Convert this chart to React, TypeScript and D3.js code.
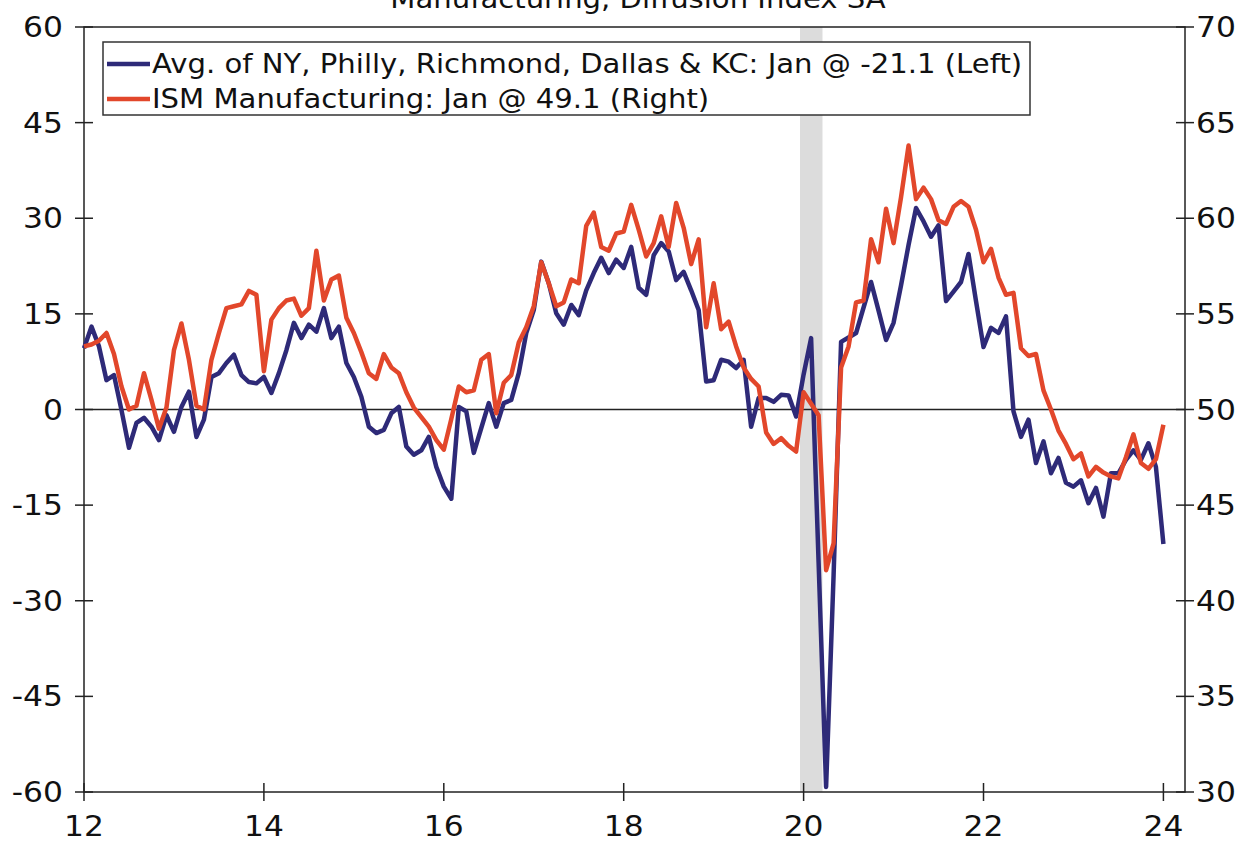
import * as d3 from "d3";

// monthly, Jan 2012 .. Jan 2024
const START_YEAR = 12;

const regionalAvg = [
  9.6, 13.0, 9.9, 4.6, 5.4, -0.1, -6.0, -2.1, -1.3, -2.7, -4.8, -0.9,
  -3.5, 0.4, 2.8, -4.3, -1.6, 5.1, 5.7, 7.3, 8.6, 5.4, 4.3, 4.1,
  5.1, 2.6, 5.7, 9.3, 13.6, 11.2, 13.3, 12.2, 15.9, 11.2, 13.0, 7.3,
  5.1, 2.0, -2.7, -3.7, -3.2, -0.6, 0.4, -5.8, -7.1, -6.4, -4.3, -9.0,
  -12.1, -14.0, 0.4, -0.3, -6.8, -2.9, 1.0, -2.7, 1.0, 1.5, 5.7, 12.0,
  15.6, 23.2, 19.8, 15.1, 13.3, 16.4, 14.8, 18.7, 21.4, 23.8, 21.4, 23.5,
  22.2, 25.5, 19.1, 18.0, 24.2, 26.1, 24.8, 20.3, 21.6, 18.7, 15.6, 4.4,
  4.6, 7.8, 7.5, 6.5, 7.8, -2.7, 1.8, 1.8, 1.2, 2.3, 2.2, -1.1,
  5.5, 11.2, -24.0, -59.2, -26.0, 10.6, 11.3, 12.0, 16.0, 20.0, 15.5, 10.9,
  13.6, 19.5, 25.8, 31.6, 29.5, 27.1, 28.9, 17.0, 18.5, 20.0, 24.4, 17.0,
  9.8, 12.8, 12.0, 14.6, -0.3, -4.3, -1.6, -8.4, -5.0, -10.0, -7.6, -11.5,
  -12.1, -11.1, -14.7, -12.3, -16.8, -10.0, -10.0, -7.9, -6.4, -7.9, -5.3, -9.0,
  -21.1,
];

const ismMfg = [
  53.3, 53.4, 53.6, 54.0, 52.9, 51.2, 50.0, 50.2, 51.9, 50.5, 49.0, 50.1,
  53.1, 54.5, 52.6, 50.2, 50.0, 52.6, 54.0, 55.3, 55.4, 55.5, 56.2, 56.0,
  52.0, 54.7, 55.3, 55.7, 55.8, 54.9, 55.3, 58.3, 55.7, 56.8, 57.0, 54.8,
  54.0, 53.0, 51.9, 51.6, 52.9, 52.2, 51.9, 50.9, 50.1, 49.6, 49.1, 48.4,
  47.9, 49.5, 51.2, 50.9, 51.0, 52.6, 52.9, 49.8, 51.4, 51.8, 53.5, 54.3,
  55.4, 57.7, 56.6, 55.4, 55.6, 56.8, 56.6, 59.6, 60.3, 58.5, 58.3, 59.2,
  59.3, 60.7, 59.4, 58.0, 58.7, 60.1, 58.5, 60.8, 59.5, 57.6, 58.9, 54.3,
  56.6, 54.2, 54.6, 53.3, 52.2, 51.6, 51.2, 48.8, 48.2, 48.5, 48.1, 47.8,
  50.9, 50.3, 49.7, 41.6, 43.0, 52.2, 53.3, 55.6, 55.7, 58.9, 57.7, 60.5,
  58.7, 61.1, 63.8, 61.0, 61.6, 61.0, 59.9, 59.7, 60.6, 60.9, 60.6, 59.4,
  57.7, 58.4, 56.9, 56.0, 56.1, 53.2, 52.8, 52.9, 51.0, 50.0, 48.9, 48.2,
  47.4, 47.7, 46.5, 47.0, 46.7, 46.5, 46.4, 47.5, 48.7, 47.2, 46.9, 47.4,
  49.2,
];

const recession = [19.96, 20.21];

const xTicks = [12, 14, 16, 18, 20, 22, 24];
const leftTicks = [-60, -45, -30, -15, 0, 15, 30, 45, 60];
const rightTicks = [30, 35, 40, 45, 50, 55, 60, 65, 70];

const title = "Manufacturing, Diffusion Index SA";
const legendItems = [
  { label: "Avg. of NY, Philly, Richmond, Dallas & KC: Jan @ -21.1 (Left)", color: "#2e2a78" },
  { label: "ISM Manufacturing: Jan @ 49.1 (Right)", color: "#e2472b" },
];

const W = 1255;
const H = 843;
const FONT = "'DejaVu Sans', Verdana, sans-serif";
const STRETCH = 1.12; // the original lettering is a little wider than DejaVu

// text drawn with a slight horizontal stretch
const Label = ({ x, y, anchor, size, children, dy = "0.36em" }: any) => (
  <g transform={`translate(${x},${y}) scale(${STRETCH},1)`}>
    <text x={0} y={0} dy={dy} textAnchor={anchor} fontSize={size} fill="#111">
      {children}
    </text>
  </g>
);

export default function App() {
  const x = d3.scaleLinear().domain([12, 24.24]).range([84, 1185]);
  const yL = d3.scaleLinear().domain([-60, 60]).range([792, 27]);
  const yR = d3.scaleLinear().domain([30, 70]).range([792, 27]);

  const t = (i: number) => START_YEAR + i / 12;
  const lineL = d3.line<number>().x((_, i) => x(t(i))).y((d) => yL(d));
  const lineR = d3.line<number>().x((_, i) => x(t(i))).y((d) => yR(d));

  const [x0, x1] = x.range();
  const [yBot, yTop] = yL.range();

  return (
    <svg
      width={W}
      height={H}
      style={{ position: "absolute", left: 0, top: 0, background: "#fff" }}
      fontFamily={FONT}
    >
      {/* title sits mostly above the visible area, as in the original */}
      <Label x={638} y={8} anchor="middle" size={26} dy={0}>
        {title}
      </Label>

      {/* recession shading */}
      <rect
        x={x(recession[0])}
        y={yTop}
        width={x(recession[1]) - x(recession[0])}
        height={yBot - yTop}
        fill="#dcdcdc"
      />

      {/* zero line */}
      <line x1={x0} x2={x1} y1={yL(0)} y2={yL(0)} stroke="#222" strokeWidth={1.5} />

      {/* frame */}
      <rect x={x0} y={yTop} width={x1 - x0} height={yBot - yTop} fill="none" stroke="#222" strokeWidth={1.5} />

      {leftTicks.map((v) => (
        <g key={"l" + v}>
          <line x1={x0 - 9} x2={x0 + 9} y1={yL(v)} y2={yL(v)} stroke="#222" strokeWidth={1.5} />
          <Label x={63} y={yL(v)} anchor="end" size={28}>
            {v}
          </Label>
        </g>
      ))}
      {rightTicks.map((v) => (
        <g key={"r" + v}>
          <line x1={x1 - 9} x2={x1 + 9} y1={yR(v)} y2={yR(v)} stroke="#222" strokeWidth={1.5} />
          <Label x={1196} y={yR(v)} anchor="start" size={28}>
            {v}
          </Label>
        </g>
      ))}
      {xTicks.map((v) => (
        <g key={"x" + v}>
          <line x1={x(v)} x2={x(v)} y1={yBot - 9} y2={yBot + 9} stroke="#222" strokeWidth={1.5} />
          <Label x={x(v)} y={836} anchor="middle" size={28} dy={0}>
            {v}
          </Label>
        </g>
      ))}

      <path d={lineL(regionalAvg) ?? ""} fill="none" stroke={legendItems[0].color} strokeWidth={4.5} strokeLinejoin="round" />
      <path d={lineR(ismMfg) ?? ""} fill="none" stroke={legendItems[1].color} strokeWidth={4.5} strokeLinejoin="round" />

      {/* legend */}
      <rect x={103} y={42} width={927} height={73} fill="#fff" stroke="#333" strokeWidth={1.5} />
      {legendItems.map((d, i) => (
        <g key={d.label}>
          <line x1={107} x2={150} y1={64 + i * 35} y2={64 + i * 35} stroke={d.color} strokeWidth={4.5} />
          <Label x={152} y={64 + i * 35} anchor="start" size={26}>
            {d.label}
          </Label>
        </g>
      ))}
    </svg>
  );
}
